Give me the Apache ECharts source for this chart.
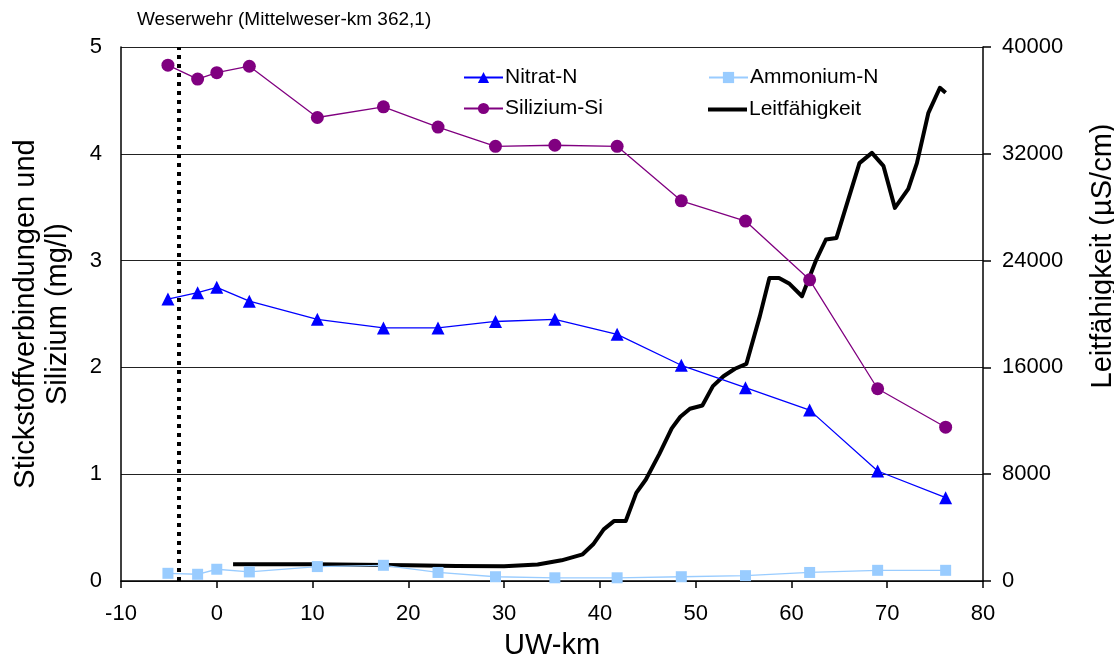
<!DOCTYPE html>
<html>
<head>
<meta charset="utf-8">
<script src="https://cdn.jsdelivr.net/npm/echarts@6/dist/echarts.min.js"></script>
<style>
html,body{margin:0;padding:0;background:#fff;}
#chart{width:1114px;height:665px;}
</style>
</head>
<body>
<div id="chart"></div>
<script>
// Sampling stations (UW-km)
var stationKm = [-5.1, -2.0, 0, 3.4, 10.5, 17.4, 23.1, 29.1, 35.3, 41.8, 48.5, 55.2, 61.9, 69.0, 76.1];
var nitrat = [2.64, 2.70, 2.75, 2.62, 2.45, 2.37, 2.37, 2.43, 2.45, 2.31, 2.02, 1.81, 1.60, 1.03, 0.78];
var ammonium = [0.072, 0.063, 0.11, 0.085, 0.135, 0.147, 0.08, 0.04, 0.03, 0.03, 0.04, 0.05, 0.08, 0.10, 0.10];
var silizium = [4.83, 4.70, 4.76, 4.82, 4.34, 4.44, 4.25, 4.07, 4.08, 4.07, 3.56, 3.37, 2.82, 1.80, 1.44];

// Conductivity profile
var condKm = [1.7, 5, 10, 15, 20, 25, 30, 33.5, 36.0, 38.2, 39.3, 40.4, 41.5, 42.7, 43.8, 44.8, 46.2, 47.5, 48.4, 49.4, 50.7, 51.8, 52.9, 54.1, 55.3, 56.7, 57.7, 58.7, 59.8, 61.1, 62.6, 63.6, 64.7, 67.1, 68.4, 69.6, 70.8, 72.2, 73.1, 74.3, 75.5, 76.1];
var condVal = [1250, 1260, 1250, 1220, 1180, 1130, 1100, 1230, 1550, 2000, 2750, 3870, 4500, 4500, 6600, 7600, 9500, 11430, 12300, 12900, 13150, 14600, 15340, 15900, 16270, 19840, 22700, 22700, 22260, 21330, 24080, 25580, 25700, 31300, 32070, 31100, 27950, 29370, 31300, 35070, 36950, 36570];

var weirKm = -4;

function pairs(xs, ys) { return xs.map(function (x, i) { return [x, ys[i]]; }); }

var FONT = 'Liberation Sans, Arial, sans-serif';
var chart = echarts.init(document.getElementById('chart'), null, {renderer: 'canvas'});
var legendText = {fontFamily: FONT, fontSize: 21, color: '#000', padding: [0, 0, 0, -3]};
chart.setOption({
  animation: false,
  backgroundColor: '#fff',
  textStyle: {fontFamily: FONT, color: '#000'},
  grid: {left: 121, right: 131, top: 47, bottom: 83, containLabel: false},
  legend: [
    {
      data: ['Nitrat-N', 'Silizium-Si'],
      orient: 'vertical', left: 458, top: 62,
      itemWidth: 39, itemHeight: 14, itemGap: 10,
      textStyle: legendText
    },
    {
      data: ['Ammonium-N'],
      orient: 'vertical', left: 703, top: 62,
      itemWidth: 39, itemHeight: 14, itemGap: 10,
      textStyle: legendText
    },
    {
      data: [{name: 'Leitfähigkeit', icon: 'rect', itemStyle: {color: '#000'}}],
      orient: 'vertical', left: 703, top: 94,
      itemWidth: 39, itemHeight: 4, itemGap: 10,
      textStyle: legendText
    }
  ],
  xAxis: {
    type: 'value', min: -10, max: 80, interval: 10,
    name: 'UW-km', nameLocation: 'middle', nameGap: 50,
    nameTextStyle: {fontFamily: FONT, fontSize: 29, color: '#000'},
    axisLine: {show: true, onZero: false, lineStyle: {color: '#000', width: 1.5}},
    axisTick: {show: true, length: 7, lineStyle: {color: '#000', width: 1.5}},
    axisLabel: {fontFamily: FONT, fontSize: 22, color: '#000', margin: 22},
    splitLine: {show: false}
  },
  yAxis: [
    {
      type: 'value', min: 0, max: 5, interval: 1, position: 'left',
      name: 'Stickstoffverbindungen und\nSilizium (mg/l)',
      nameLocation: 'middle', nameGap: 47,
      nameTextStyle: {fontFamily: FONT, fontSize: 29, color: '#000', lineHeight: 32},
      axisLine: {show: true, onZero: false, lineStyle: {color: '#000', width: 1.5}},
      axisTick: {show: false},
      axisLabel: {fontFamily: FONT, fontSize: 22, color: '#000', margin: 19},
      splitLine: {show: true, lineStyle: {color: '#222', width: 1}}
    },
    {
      type: 'value', min: 0, max: 40000, interval: 8000, position: 'right',
      axisLine: {show: true, onZero: false, lineStyle: {color: '#000', width: 1.5}},
      axisTick: {show: true, length: 8, lineStyle: {color: '#000', width: 1.5}},
      axisLabel: {fontFamily: FONT, fontSize: 22, color: '#000', margin: 19,
        formatter: function (v) { return String(v); }},
      splitLine: {show: false}
    }
  ],
  graphic: [
    {
      type: 'text', left: 137, top: 10,
      style: {text: 'Weserwehr (Mittelweser-km 362,1)', fontFamily: FONT, fontSize: 19, fill: '#000'}
    },
    {
      type: 'text', x: 1103, y: 256, rotation: Math.PI / 2,
      style: {text: 'Leitfähigkeit (µS/cm)', fontFamily: FONT, fontSize: 29, fill: '#000', align: 'center', verticalAlign: 'middle'}
    }
  ],
  series: [
    {
      name: 'Leitfähigkeit', type: 'line', yAxisIndex: 1, z: 2,
      data: pairs(condKm, condVal),
      symbol: 'none',
      lineStyle: {color: '#000', width: 4, join: 'round'},
      itemStyle: {color: '#000'}
    },
    {
      name: 'Nitrat-N', type: 'line', yAxisIndex: 0, z: 3,
      data: pairs(stationKm, nitrat),
      symbol: 'triangle', symbolSize: 13,
      lineStyle: {color: '#0000ff', width: 1.3},
      itemStyle: {color: '#0000ff'}
    },
    {
      name: 'Ammonium-N', type: 'line', yAxisIndex: 0, z: 3,
      data: pairs(stationKm, ammonium),
      symbol: 'rect', symbolSize: 11,
      lineStyle: {color: '#99ccff', width: 1.3},
      itemStyle: {color: '#99ccff'}
    },
    {
      name: 'Silizium-Si', type: 'line', yAxisIndex: 0, z: 3,
      data: pairs(stationKm, silizium),
      symbol: 'circle', symbolSize: 13,
      lineStyle: {color: '#800080', width: 1.3},
      itemStyle: {color: '#800080'},
      markLine: {
        silent: true, symbol: 'none', label: {show: false},
        lineStyle: {color: '#000', width: 4, type: [4, 5]},
        data: [{xAxis: weirKm}]
      }
    }
  ]
});
</script>
</body>
</html>
